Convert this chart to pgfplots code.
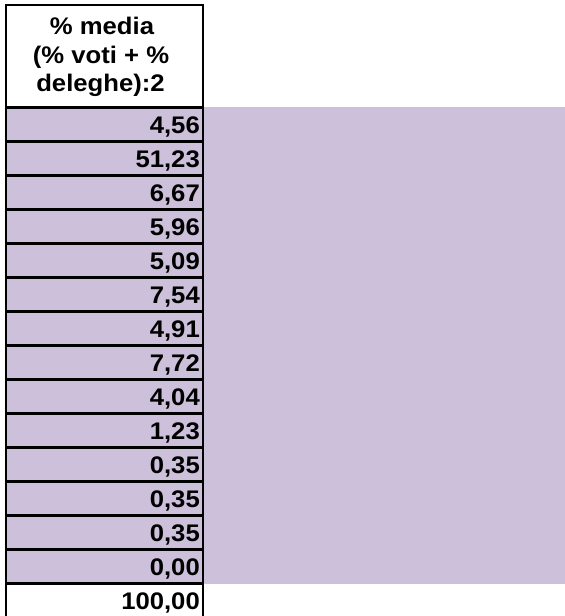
\documentclass[border=0pt]{standalone}
\usepackage{fontspec}
\setmainfont{Liberation Sans}[FakeStretch=1.07]
\usepackage{pgfplots}
\pgfplotsset{compat=1.18}
\definecolor{lav}{RGB}{204,192,218}
\begin{document}
\begin{tikzpicture}
\begin{axis}[width=565bp,height=616bp,scale only axis,
  xmin=0,xmax=565,ymin=0,ymax=616,y dir=reverse,
  hide axis, clip=false,
  /pgf/number format/assume math mode=true]
% lavender block behind the data rows
\addplot[fill=lav,draw=none] coordinates {(6,107.5) (565,107.5) (565,583.5) (6,583.5)} -- cycle;
% grid lines
\pgfplotsinvokeforeach{0,...,14}{
  \draw[line width=2.2bp,black] (axis cs:6,{107.5+34*#1}) -- (axis cs:203,{107.5+34*#1});
}
\draw[line width=2.2bp,black] (axis cs:6,620) -- (axis cs:6,5) -- (axis cs:203,5) -- (axis cs:203,620);
% header
\node[anchor=base,inner sep=0pt,font=\bfseries\fontsize{24bp}{28bp}\selectfont] at (axis cs:102,35) {\% media};
\node[anchor=base,inner sep=0pt,font=\bfseries\fontsize{24bp}{28bp}\selectfont] at (axis cs:101,63.5) {(\% voti + \%};
\node[anchor=base,inner sep=0pt,font=\bfseries\fontsize{24bp}{28bp}\selectfont] at (axis cs:100.5,92) {deleghe):2};
% values
\addplot[draw=none,mark=none,point meta=explicit,
  nodes near coords={\pgfmathprintnumber[fixed,fixed zerofill,precision=2,use comma,1000 sep={},assume math mode=true]{\pgfplotspointmeta}},
  nodes near coords style={anchor=base east,inner sep=0pt,text=black,font=\bfseries\fontsize{24bp}{28bp}\selectfont}]
  table[x expr=200, y expr={107.5+34*\coordindex+25.5}, meta=v] {
v
4.56
51.23
6.67
5.96
5.09
7.54
4.91
7.72
4.04
1.23
0.35
0.35
0.35
0.00
100.00
};
\end{axis}
\pgfresetboundingbox
\path (0,0) rectangle (565bp,616bp);
\end{tikzpicture}
\end{document}
